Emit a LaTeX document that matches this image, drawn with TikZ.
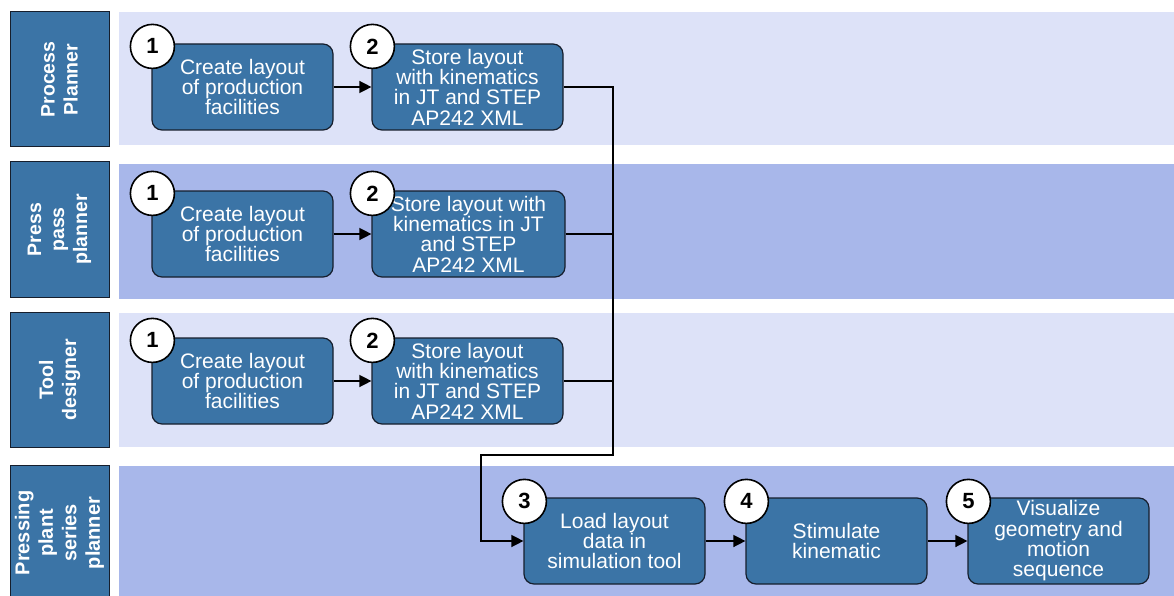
\documentclass[tikz,border=0pt]{standalone}
\usepackage{fontspec}
\setmainfont{Liberation Sans}
\usetikzlibrary{arrows.meta,calc}
\definecolor{lanelight}{RGB}{221,226,248}
\definecolor{lanedark}{RGB}{168,183,234}
\definecolor{stepblue}{RGB}{59,116,166}
\definecolor{edgeink}{RGB}{22,30,44}

\begin{document}
\begin{tikzpicture}[x=1pt,y=-1pt,
  role/.style={draw=edgeink, line width=1pt, fill=stepblue, rotate=90,
    minimum width=135pt, minimum height=99pt, inner sep=0pt,
    text=white, align=center, font=\bfseries\fontsize{19.5}{23}\selectfont},
  task/.style={draw=edgeink, line width=1.2pt, fill=stepblue, rounded corners=10pt,
    minimum width=181pt, minimum height=86pt, inner sep=0pt,
    text=white, align=center, font=\fontsize{21}{20.3}\selectfont},
  num/.style={circle, draw=black, line width=1.6pt, fill=white,
    minimum size=44pt, inner sep=0pt, font=\bfseries\fontsize{22}{22}\selectfont},
  link/.style={line width=1.4pt},
  flow/.style={link, -{Triangle[length=12pt,width=12pt]}}]

\useasboundingbox (0,0) rectangle (1174,596);

% swimlane backgrounds
\fill[lanelight] (119,12)  rectangle (1174,145);
\fill[lanedark]  (119,164) rectangle (1174,299);
\fill[lanelight] (119,313) rectangle (1174,447);
\fill[lanedark]  (119,466) rectangle (1174,596);

% role headers
\node[role] (r1) at (59.5,79.5) {Process\\Planner};
\node[role] (r2) at (59.5,229.5) {Press\\pass\\planner};
\node[role] (r3) at (59.5,380) {Tool\\designer};
\node[role, font=\bfseries\fontsize{20}{23.5}\selectfont] (r4) at (59.5,533) {Pressing\\plant\\series\\planner};

% lane 1
\node[task] (a1) at (242.5,87) {Create layout\\of production\\facilities};
\node[task, minimum width=191pt] (a2) at (467.5,87) {Store layout\\with kinematics\\in JT and STEP\\AP242 XML};
% lane 2
\node[task] (b1) at (242.5,234) {Create layout\\of production\\facilities};
\node[task, minimum width=193pt] (b2) at (468.5,234) {Store layout with\\kinematics in JT\\and STEP\\AP242 XML};
% lane 3
\node[task] (c1) at (242.5,381) {Create layout\\of production\\facilities};
\node[task, minimum width=191pt] (c2) at (467.5,381) {Store layout\\with kinematics\\in JT and STEP\\AP242 XML};
% lane 4
\node[task] (d3) at (614.5,541) {Load layout\\data in\\simulation tool};
\node[task] (d4) at (836.5,541) {Stimulate\\kinematic};
\node[task] (d5) at (1058.5,541) {Visualize\\geometry and\\motion\\sequence};

% step numbers
\node[num] (n1a) at ($(a1.north west)+(1,3)$) {1};
\node[num] (n2a) at ($(a2.north west)+(1,3)$) {2};
\node[num] (n1b) at ($(b1.north west)+(1,3)$) {1};
\node[num] (n2b) at ($(b2.north west)+(1,3)$) {2};
\node[num] (n1c) at ($(c1.north west)+(1,3)$) {1};
\node[num] (n2c) at ($(c2.north west)+(1,3)$) {2};
\node[num] (n3) at ($(d3.north west)+(1,4)$) {3};
\node[num] (n4) at ($(d4.north west)+(1,4)$) {4};
\node[num] (n5) at ($(d5.north west)+(1,4)$) {5};

% connectors
\coordinate (bus) at (613,87);
\coordinate (turn) at (613,455);
\coordinate (jog) at (481,455);

\draw[flow] (a1) -- (a2);
\draw[flow] (b1) -- (b2);
\draw[flow] (c1) -- (c2);
\draw[flow] (a2.east) -- (bus) -- (turn) -- (jog) |- (d3.west);
\draw[link] (b2.east) -- (b2.east -| bus);
\draw[link] (c2.east) -- (c2.east -| bus);
\draw[flow] (d3) -- (d4);
\draw[flow] (d4) -- (d5);
\end{tikzpicture}
\end{document}
